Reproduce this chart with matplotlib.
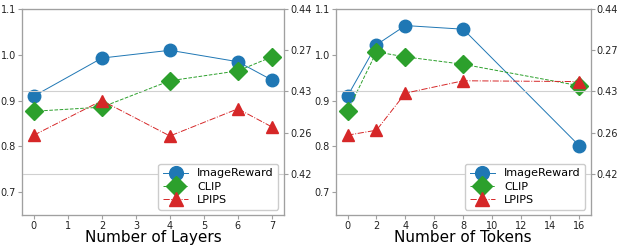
import matplotlib
matplotlib.use("Agg")
import matplotlib.pyplot as plt

# Data
layers = [0, 2, 4, 6, 7]
layers_imagereward = [0.910, 0.993, 1.010, 0.985, 0.945]
layers_clip = [0.2626, 0.2631, 0.2663, 0.2675, 0.2692]
layers_lpips = [0.4247, 0.4289, 0.4246, 0.4279, 0.4257]

tokens = [0, 2, 4, 8, 16]
tokens_imagereward = [0.910, 1.022, 1.064, 1.056, 0.802]
tokens_clip = [0.2626, 0.2698, 0.2692, 0.2683, 0.2657]
tokens_lpips = [0.4247, 0.4253, 0.4298, 0.4313, 0.4312]

left_ticks = [0.7, 0.8, 0.9, 1.0, 1.1]
clip_ticks = [0.26, 0.27]
lpips_ticks = [0.42, 0.43, 0.44]

plt.rcParams["font.family"] = "DejaVu Sans"
edge = "#a0a0a0"

fig = plt.figure(figsize=(6.21, 2.45), dpi=100)


def panel(rect, x, ir, clip, lpips, xticks, xlabel):
    ax = fig.add_axes(rect)
    ax_clip = ax.twinx()
    ax_lp = ax.twinx()

    l1, = ax.plot(x, ir, "-o", color="#1f77b4", lw=0.7, ms=9, label="ImageReward")
    l2, = ax_clip.plot(x, clip, "--D", color="#2ca02c", lw=0.7, ms=9, label="CLIP")
    l3, = ax_lp.plot(x, lpips, "-.^", color="#d62728", lw=0.7, ms=9, label="LPIPS")

    ax.set_ylim(0.65, 1.1)
    ax.set_yticks(left_ticks)
    ax_clip.set_ylim(0.25, 0.275)
    ax_clip.set_yticks(clip_ticks)
    ax_lp.set_ylim(0.415, 0.44)
    ax_lp.set_yticks(lpips_ticks)
    ax_lp.grid(axis="y", color="#d0d0d0", lw=0.8)

    ax.set_xticks(xticks)
    ax.set_xlabel(xlabel, fontsize=11, labelpad=-1)

    for a in (ax, ax_clip, ax_lp):
        for s in a.spines.values():
            s.set_color(edge)
        a.tick_params(labelsize=7, colors=edge, labelcolor="#222222",
                      length=3, pad=1.5)

    ax_lp.legend([l1, l2, l3], ["ImageReward", "CLIP", "LPIPS"],
                 loc="lower right", fontsize=8, framealpha=1,
                 borderpad=0.4, labelspacing=0.3, handlelength=2.3,
                 markerscale=1.1)
    return ax


panel([0.0354, 0.122, 0.4216, 0.841], layers, layers_imagereward, layers_clip,
      layers_lpips, [0, 1, 2, 3, 4, 5, 6, 7], "Number of Layers")
panel([0.541, 0.122, 0.410, 0.841], tokens, tokens_imagereward, tokens_clip,
      tokens_lpips, [0, 2, 4, 6, 8, 10, 12, 14, 16], "Number of Tokens")

fig.savefig("out.png", dpi=100)
